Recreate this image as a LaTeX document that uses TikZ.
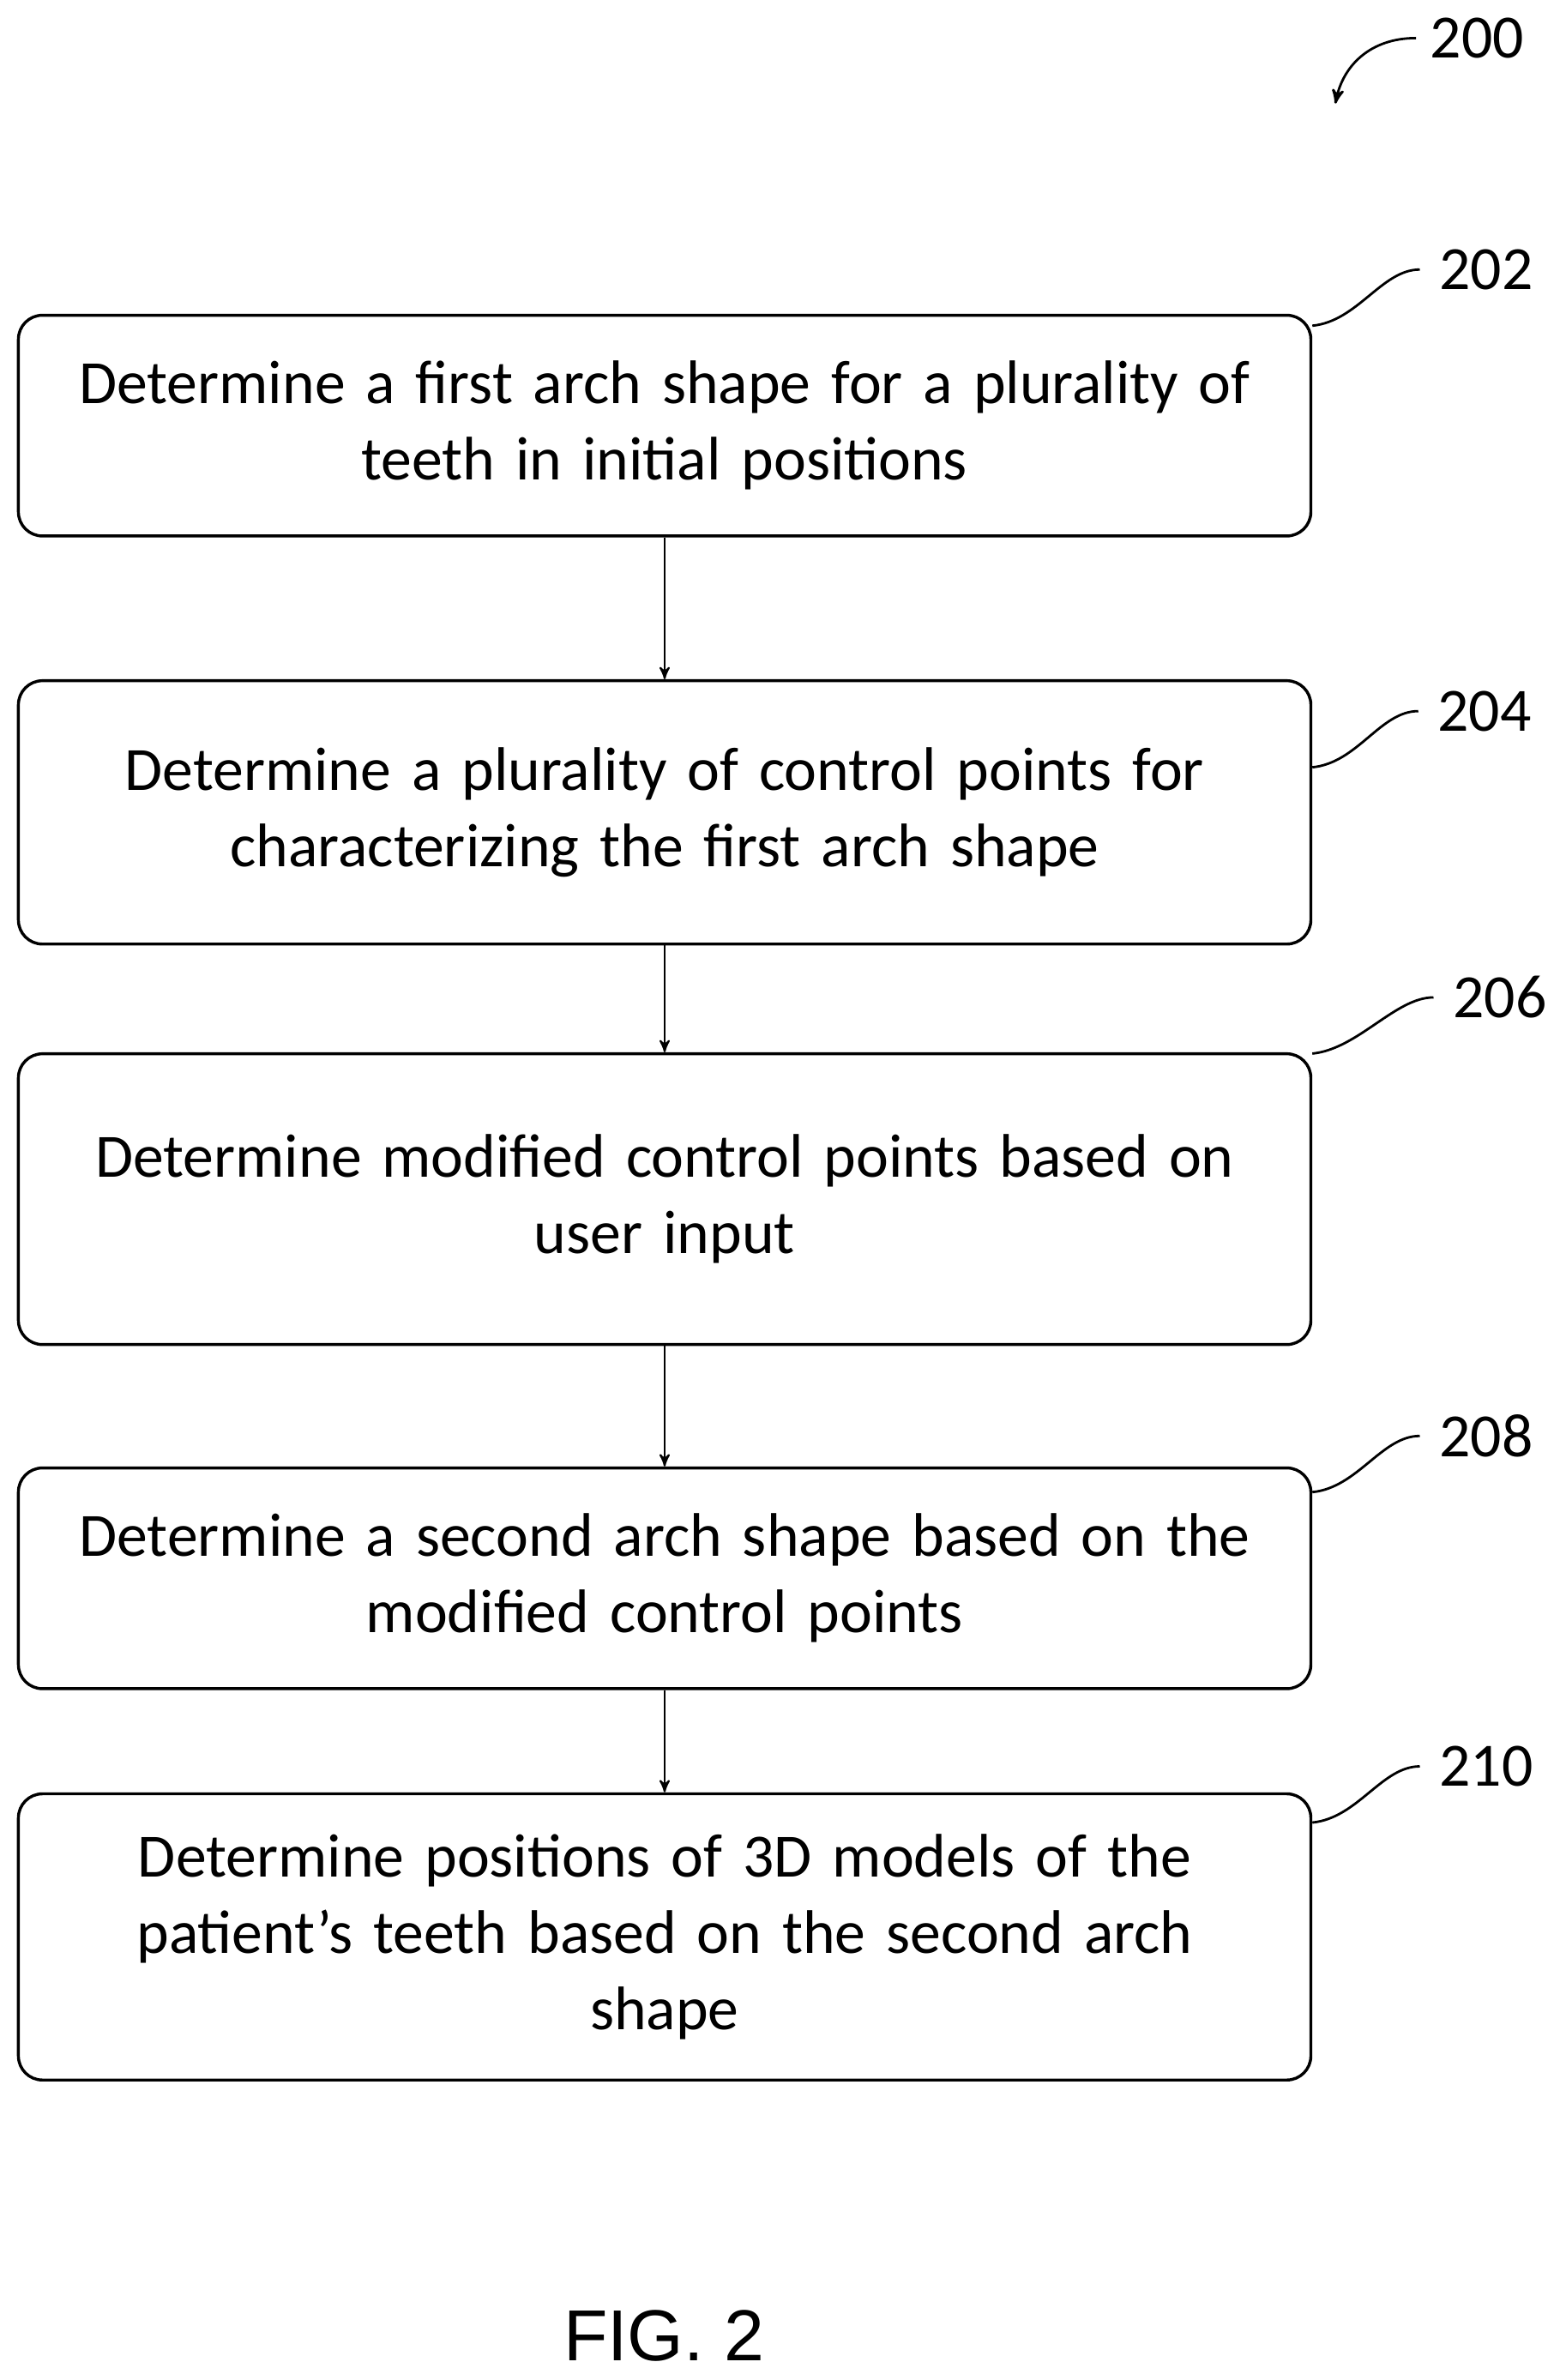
\documentclass[tikz,border=0pt]{standalone}
\usepackage{fontspec}
\setmainfont{Carlito}
\newfontfamily\figfont{Liberation Sans}
\usetikzlibrary{arrows,positioning,calc}

\begin{document}
\begin{tikzpicture}[x=0.02cm, y=-0.02cm, >=stealth', semithick]
\tikzstyle{stage}=[draw=black, line width=1.1pt, rounded corners=9pt,
  minimum width=16.98cm, align=center, text width=16cm,
  font=\fontsize{23}{28.5}\selectfont, inner sep=0pt]
\tikzstyle{ref}=[font=\fontsize{23}{28}\selectfont, inner sep=1pt]
\tikzstyle{flow}=[->, line width=0.7pt]
\tikzstyle{lead}=[line width=0.9pt]
\useasboundingbox (0,0) rectangle (1024,1563);

\node[stage, minimum height=2.9cm]  (b202) at (436.5,279.5) {Determine a first arch shape for a plurality of\\teeth in initial positions};
\node[stage, minimum height=3.46cm] (b204) at (436.5,533.5) {Determine a plurality of control points for\\characterizing the first arch shape};
\node[stage, minimum height=3.82cm] (b206) at (436.5,787.5) {Determine modified control points based on\\user input};
\node[stage, minimum height=2.9cm]  (b208) at (436.5,1036.5) {Determine a second arch shape based on the\\modified control points};
\node[stage, minimum height=3.76cm] (b210) at (436.5,1272) {Determine positions of 3D models of the\\patient’s teeth based on the second arch\\shape};

\node[ref] (l200) at (970,25)  {200};
\node[ref] (l202) at (976,177) {202};
\node[ref] (l204) at (975,467) {204};
\node[ref] (l206) at (985,655) {206};
\node[ref] (l208) at (976,943) {208};
\node[ref] (l210) at (976,1160) {210};

\node[font=\figfont\fontsize{27}{30}\selectfont] (fig) at (436,1534) {FIG. 2};

\draw[flow] (b202) -- (b204);
\draw[flow] (b204) -- (b206);
\draw[flow] (b206) -- (b208);
\draw[flow] (b208) -- (b210);

% leaders from box edge up to the reference numbers
\foreach \n in {202,204,206,208,210}
  \draw[lead] ([yshift=-21pt]b\n.east |- l\n.west) .. controls +(30,-3) and +(-25,0) .. ([xshift=-6pt]l\n.west);

\coordinate (c200) at (877,68);
\draw[lead, ->] ([xshift=-4pt]l200.west) .. controls +(-30,0) and +(5,-25) .. (c200);
\end{tikzpicture}
\end{document}
